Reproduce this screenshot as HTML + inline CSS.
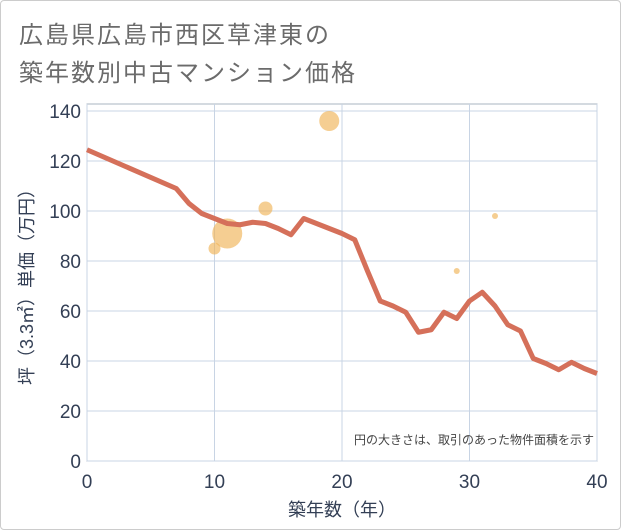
<!DOCTYPE html>
<html><head><meta charset="utf-8"><style>
body{margin:0;background:#fff;}
#wrap{position:relative;width:621px;height:530px;background:#fff;border:1px solid #ccc;box-sizing:border-box;border-radius:4px;overflow:hidden;}
.t{position:absolute;left:18px;font:24px "Liberation Sans","Noto Sans CJK JP",sans-serif;color:#6b6b6b;letter-spacing:2px;}
</style></head><body>
<div id="wrap">
<div class="t" style="top:14px">広島県広島市西区草津東の</div>
<div class="t" style="top:52px">築年数別中古マンション価格</div>
<svg id="c" width="621" height="530" style="position:absolute;left:0;top:0"></svg>
</div>
<script>
const lineYears=[0,7,8,9,10,11,12,13,14,15,16,17,18,19,20,21,22,23,24,25,26,27,28,29,30,31,32,33,34,35,36,37,38,39,40];
const linePrices=[124.5,109,103,99,97,95,94.5,95.5,95,93,90.5,97,95,93,91,88.5,76,64,62,59.5,51.5,52.5,59.5,57,64,67.5,62,54.5,52,41,39,36.5,39.5,37,35];
const bubbleYears=[10,11,14,19,29,32];
const bubblePrices=[85,91,101,136,76,98];
const bubbleSizes=[6,15,7,10,3,3];
const xTicks=[0,10,20,30,40];
const yTicks=[0,20,40,60,80,100,120,140];
const NS="http://www.w3.org/2000/svg";
const svg=document.getElementById('c');
const X0=86,X1=596,Y0=460,YT=110,PT=103;
const xs=v=>X0+(X1-X0)*v/40;
const ys=v=>Y0-(Y0-YT)*v/140;
function mk(t,a){const e=document.createElementNS(NS,t);for(const k in a)e.setAttribute(k,a[k]);svg.appendChild(e);return e;}
let e;
e=mk('rect',{x:X0,y:PT,width:X1-X0,height:Y0-PT,fill:'#fff',stroke:'#aab4c0'});


for(const v of yTicks){
 e=mk('line',{x1:X0,x2:X1,y1:ys(v),y2:ys(v),stroke:'#c8d4e4'});
 
 
 e=mk('text',{x:X0-6,y:ys(v)+7,'text-anchor':'end','font-size':19,fill:'#333f55','font-family':'Liberation Sans,sans-serif'});e.textContent=v;
 
 
}
for(const v of xTicks){
 e=mk('line',{x1:xs(v),x2:xs(v),y1:PT,y2:Y0,stroke:'#c8d4e4'});
 
 
 e=mk('text',{x:xs(v),y:Y0+27,'text-anchor':'middle','font-size':19,fill:'#333f55','font-family':'Liberation Sans,sans-serif'});e.textContent=v;
 
 
}
for(let i=0;i<bubbleYears.length;i++){
 e=mk('circle',{cx:xs(bubbleYears[i]),cy:ys(bubblePrices[i]),r:bubbleSizes[i],fill:'#f0b458',opacity:0.65});
 
 
}
e=mk('polyline',{points:lineYears.map((y,i)=>xs(y)+','+ys(linePrices[i])).join(' '),fill:'none',stroke:'#d5705a','stroke-width':5,'stroke-linejoin':'round'});


e=mk('text',{x:593,y:443,'text-anchor':'end','font-size':12,fill:'#444','font-family':'Liberation Sans,Noto Sans CJK JP,sans-serif'});e.textContent='円の大きさは、取引のあった物件面積を示す';


e=mk('text',{x:(X0+X1)/2,y:515,'text-anchor':'middle','font-size':18,fill:'#333f55','font-family':'Liberation Sans,Noto Sans CJK JP,sans-serif'});e.textContent='築年数（年）';


e=mk('text',{x:0,y:0,'text-anchor':'middle','font-size':18,fill:'#333f55','font-family':'Liberation Sans,Noto Sans CJK JP,sans-serif',transform:`translate(32,${(PT+Y0)/2}) rotate(-90)`});e.textContent='坪（3.3㎡）単価（万円）';


</script>
</body></html>
